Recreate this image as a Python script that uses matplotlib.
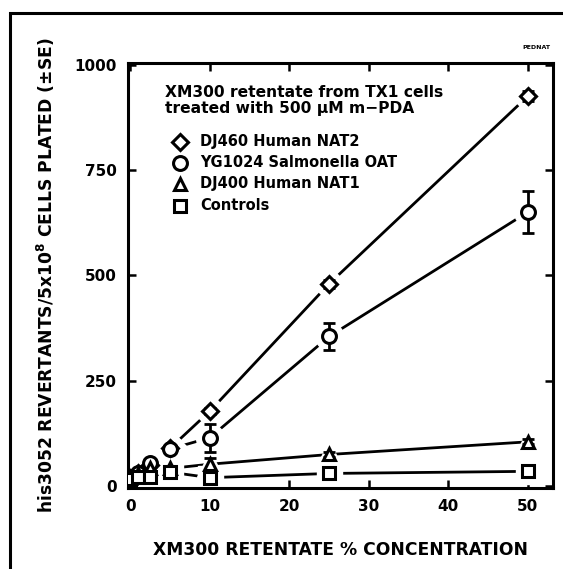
import matplotlib
matplotlib.use("Agg")
import matplotlib.pyplot as plt
from matplotlib.patches import Rectangle

plt.rcParams['font.family'] = ['DejaVu Sans']
plt.rcParams['font.weight'] = 'bold'

x = [0, 1, 2.5, 5, 10, 25, 50]
nat2 = [20, 30, 50, 90, 178, 480, 925]
nat2_err = [3, 4, 5, 6, 8, 10, 12]
oat = [22, 32, 55, 88, 115, 355, 650]
oat_err = [3, 4, 5, 6, 33, 32, 50]
nat1 = [20, 28, 42, 42, 52, 75, 105]
nat1_err = [3, 3, 4, 5, 15, 6, 6]
ctrl = [18, 22, 22, 33, 20, 30, 35]
ctrl_err = [3, 3, 3, 4, 12, 6, 12]

labels = ['DJ460 Human NAT2', 'YG1024 Salmonella OAT', 'DJ400 Human NAT1', 'Controls']
markers = ['D', 'o', '^', 's']
msizes = [8.5, 10, 9, 8]

xticks = [0, 10, 20, 30, 40, 50]
yticks = [0, 250, 500, 750, 1000]

fig = plt.figure(figsize=(5.63, 5.69), dpi=100)
ax = fig.add_axes([0.2275, 0.142, 0.755, 0.748])

series = [nat2, oat, nat1, ctrl]
errs = [nat2_err, oat_err, nat1_err, ctrl_err]
for ys, es, m, ms, lab in zip(series, errs, markers, msizes, labels):
    ax.plot(x, ys, '-', color='black', lw=2.0, zorder=1)
for ys, es, m, ms, lab in zip(series, errs, markers, msizes, labels):
    ax.plot(x, ys, linestyle='none', marker=m, ms=ms + 10, mfc='white', mec='white', zorder=2)
for ys, es, m, ms, lab in zip(series, errs, markers, msizes, labels):
    ax.errorbar(x, ys, yerr=es, fmt='none', ecolor='black', elinewidth=2, capsize=4, capthick=2, zorder=3)
    ax.plot(x, ys, linestyle='none', marker=m, ms=ms, mfc='white', mec='black', mew=2.2, zorder=4)

ax.set_xlim(-0.3, 53.2)
ax.set_ylim(-5, 1005)
ax.set_xticks(xticks)
ax.set_yticks(yticks)
ax.tick_params(direction='in', length=6, width=1.8, top=True, right=True, labelsize=11, pad=8)
for lab in ax.get_xticklabels() + ax.get_yticklabels():
    lab.set_fontweight('bold')
for s in ax.spines.values():
    s.set_linewidth(2.2)

ax.set_xlabel('XM300 RETENTATE % CONCENTRATION', fontsize=12.3, fontweight='bold', labelpad=19)
ax.set_ylabel('his3052 REVERTANTS/5x10$^{\\mathbf{8}}$ CELLS PLATED (±SE)', fontsize=12.3, fontweight='bold', labelpad=13)

ax.text(0.087, 0.948, 'XM300 retentate from TX1 cells\ntreated with 500 μM m−PDA', transform=ax.transAxes,
        fontsize=11.2, fontweight='bold', va='top', ha='left', linespacing=1.1)
ys_leg = [0.814, 0.765, 0.715, 0.664]
for yl, m, ms, lab in zip(ys_leg, markers, msizes, labels):
    ax.plot([0.122], [yl], transform=ax.transAxes, marker=m, ms=ms, mfc='white', mec='black', mew=2.2, linestyle='none')
    ax.text(0.169, yl, lab, transform=ax.transAxes, fontsize=10.5, fontweight='bold', va='center', ha='left')

fig.text(0.952, 0.913, 'PEDNAT', fontsize=4.5, fontweight='bold', ha='center', va='bottom')

fig.patches.append(Rectangle((0.018, -0.1), 1.2, 0.1 + 0.978, transform=fig.transFigure,
                             fill=False, edgecolor='black', lw=2.2))

fig.savefig('out.png', dpi=100)
